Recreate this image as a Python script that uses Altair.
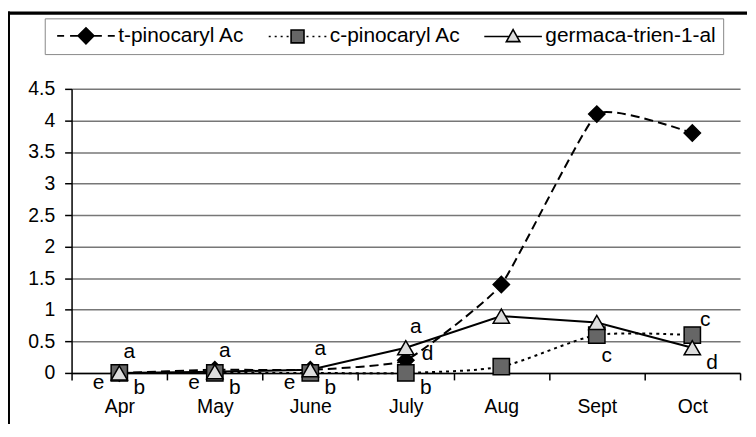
import altair as alt
import pandas as pd

months = ["Apr", "May", "June", "July", "Aug", "Sept", "Oct"]
series_names = ["t-pinocaryl Ac", "c-pinocaryl Ac", "germaca-trien-1-al"]
t_pinocaryl = [0.0, 0.05, 0.05, 0.2, 1.4, 4.1, 3.8]
c_pinocaryl = [0.0, 0.0, 0.0, 0.0, 0.1, 0.6, 0.6]
germaca = [0.0, 0.02, 0.05, 0.4, 0.9, 0.8, 0.4]
y_ticks = [0, 0.5, 1, 1.5, 2, 2.5, 3, 3.5, 4, 4.5]

# significance letters: month, series index they sit next to, letter, placement
ann_months = ["Apr", "Apr", "Apr", "May", "May", "May", "June", "June", "June",
              "July", "July", "July", "Sept", "Oct", "Oct"]
ann_series = [2, 1, 1, 2, 1, 1, 2, 1, 1, 2, 0, 1, 1, 1, 2]
ann_letters = ["a", "e", "b", "a", "e", "b", "a", "e", "b", "a", "d", "b", "c", "c", "d"]
ann_place = ["above", "left", "below-right", "above", "left", "below-right",
             "above", "left", "below-right", "above", "right", "below-right",
             "below", "above-right", "below-right"]

values = [t_pinocaryl, c_pinocaryl, germaca]
rows = []
for s, vals in zip(series_names, values):
    for m, v in zip(months, vals):
        rows.append({"month": m, "series": s, "value": v})
df = pd.DataFrame(rows)

ann = pd.DataFrame({
    "month": ann_months,
    "letter": ann_letters,
    "place": ann_place,
    "value": [values[si][months.index(m)] for m, si in zip(ann_months, ann_series)],
})

FONT = "Liberation Sans"
fill_colors = ["#000000", "#666666", "#dddddd"]

x_enc = alt.X("month:N", sort=months,
              scale=alt.Scale(type="band", domain=months, paddingInner=0, paddingOuter=0),
              axis=alt.Axis(title=None, labelAngle=0, tickBand="extent", labelFont=FONT,
                            labelFontSize=19.5, labelColor="black", labelPadding=18,
                            tickSize=7, tickColor="black", tickWidth=1.5,
                            domainColor="black", domainWidth=1.5, grid=False))
y_enc = alt.Y("value:Q", scale=alt.Scale(domain=[0, 4.5], nice=False, zero=True),
              axis=alt.Axis(title=None, values=y_ticks, format="~g", labelFont=FONT,
                            labelFontSize=19.5, labelColor="black", labelPadding=10,
                            tickSize=7, tickColor="black", tickWidth=1.5,
                            domainColor="black", domainWidth=1.5,
                            grid=True, gridColor="#777777", gridWidth=1.5))

base = alt.Chart(df)

line_t = base.transform_filter(alt.datum.series == series_names[0]).mark_line(
    color="black", strokeWidth=2, strokeDash=[9, 5], interpolate="cardinal", tension=0.6
).encode(x=x_enc, y=y_enc)
line_c = base.transform_filter(alt.datum.series == series_names[1]).mark_line(
    color="black", strokeWidth=2, strokeDash=[3, 4], interpolate="cardinal", tension=0.3
).encode(x=x_enc, y=y_enc)
line_g = base.transform_filter(alt.datum.series == series_names[2]).mark_line(
    color="black", strokeWidth=2
).encode(x=x_enc, y=y_enc)

points = base.mark_point(filled=True, stroke="black", strokeWidth=1.5, opacity=1).encode(
    x=x_enc, y=y_enc,
    shape=alt.Shape("series:N", sort=series_names,
                    scale=alt.Scale(domain=series_names, range=["diamond", "square", "triangle-up"]),
                    legend=None),
    fill=alt.Fill("series:N", sort=series_names,
                  scale=alt.Scale(domain=series_names, range=fill_colors),
                  legend=None),
    size=alt.value(270),
)

# legend-only layer: symbols drawn as line + marker paths (unit = sqrt(size)/2 px)
p_t = "M-1.25,0H0.5M2,0H4M6,-2L8,0L6,2L4,0ZM8,0H10M11.5,0H13.25"
p_c = ("M-1.25,0H-0.75M0.25,0H0.75M1.75,0H2.25M3.25,0H3.75"
       "M4.375,-1.625H7.625V1.625H4.375Z"
       "M8.25,0H8.75M9.75,0H10.25M11.25,0H11.75M12.75,0H13.25")
p_g = "M-1.25,0H5.04M6.96,0H13.25M6,-1.7L7.7,1.3H4.3Z"

legend = alt.Legend(
    orient="none", legendX=-27, legendY=-71, direction="horizontal", columns=3,
    title=None, symbolSize=64, symbolStrokeWidth=1.6, symbolStrokeColor="black",
    symbolOpacity=1, labelOffset=46,
    padding=7, strokeColor="#888888", fillColor="white",
    labelFont=FONT, labelFontSize=21, labelColor="black", labelLimit=400,
    columnPadding=18,
)

legend_layer = base.transform_filter("false").mark_point(
    filled=True, strokeWidth=1.6, opacity=1
).encode(
    x=x_enc, y=y_enc,
    shape=alt.Shape("series:N", sort=series_names,
                    scale=alt.Scale(domain=series_names, range=[p_t, p_c, p_g]),
                    legend=legend),
    fill=alt.Fill("series:N", sort=series_names,
                  scale=alt.Scale(domain=series_names, range=fill_colors),
                  legend=legend),
    stroke=alt.Stroke("series:N", sort=series_names,
                      scale=alt.Scale(domain=series_names, range=["#000000", "#000000", "#000000"]),
                      legend=legend),
)

offsets = {
    "above": (10, -15),
    "left": (-21, 16),
    "below-right": (20, 21),
    "right": (22, 0),
    "below": (10, 27),
    "above-right": (13, -9),
}
texts = []
for place, (dx, dy) in offsets.items():
    texts.append(
        alt.Chart(ann).transform_filter(alt.datum.place == place).mark_text(
            font=FONT, fontSize=21, color="black", align="center",
            baseline="alphabetic", dx=dx, dy=dy
        ).encode(x=x_enc, y=y_enc, text="letter:N")
    )

# outer chart frame (top and left edges visible in the reference)
frame_top = alt.Chart(alt.Data(values=[{"k": 1}])).mark_rect(color="black", opacity=1).encode(
    x=alt.value(-64.5), x2=alt.value(680), y=alt.value(-78), y2=alt.value(-74.5))
frame_left = alt.Chart(alt.Data(values=[{"k": 2}])).mark_rect(color="black", opacity=1).encode(
    x=alt.value(-64.5), x2=alt.value(-62), y=alt.value(-78), y2=alt.value(420))

chart = alt.layer(line_t, line_c, line_g, points, legend_layer, *texts,
                  frame_left, frame_top).resolve_scale(
    shape="independent", fill="independent", stroke="independent"
).properties(
    width=673, height=286,
    padding={"left": 64, "top": 80, "right": 8, "bottom": 50},
    autosize=alt.AutoSizeParams(type="none"),
).configure_view(stroke=None)

chart.save("out.html", embed_options={"renderer": "svg", "actions": False})
